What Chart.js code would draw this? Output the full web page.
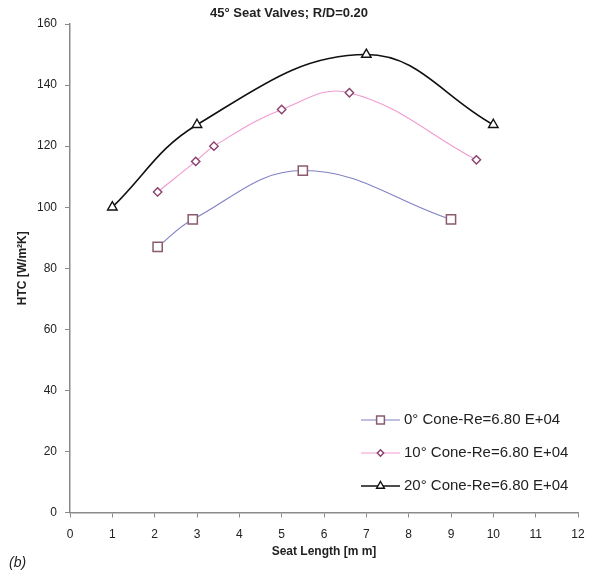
<!DOCTYPE html>
<html>
<head>
<meta charset="utf-8">
<script src="https://cdn.jsdelivr.net/npm/chart.js@4.4.1/dist/chart.umd.min.js"></script>
<style>
  html, body { margin: 0; padding: 0; background: #fff; }
  #wrap { width: 592px; height: 576px; }
</style>
</head>
<body>
<div id="wrap"><canvas id="htcChart" width="592" height="576"></canvas></div>
<script>
// Heat transfer coefficient vs seat length, 45° seat valves, R/D = 0.20
const seriesLabels = [
  '0° Cone-Re=6.80 E+04',
  '10° Cone-Re=6.80 E+04',
  '20° Cone-Re=6.80 E+04'
];

const seatLength0 = [2.07, 2.9, 5.5, 9.0];
const htc0 = [87, 96, 112, 96];

const seatLength10 = [2.07, 2.97, 3.4, 5.0, 6.6, 9.6];
const htc10 = [105, 115, 120, 132, 137.5, 115.5];

const seatLength20 = [1, 3, 7, 10];
const htc20 = [100, 127, 150, 127];

const FONT = '"Liberation Sans", Arial, sans-serif';
const TEXT = '#222';
const AXIS = '#8a8a8a';

const toPoints = (xs, ys) => xs.map((x, i) => ({ x, y: ys[i] }));

// Legend drawn as line + marker samples, lower right of the plot
const lineLegend = {
  id: 'lineLegend',
  afterDraw(chart) {
    const ctx = chart.ctx;
    const x0 = 361, x1 = 400, textX = 404;
    const rows = [420, 453, 486];
    chart.data.datasets.forEach((ds, i) => {
      const y = rows[i];
      ctx.save();
      ctx.strokeStyle = ds.borderColor;
      ctx.lineWidth = ds.borderWidth;
      ctx.beginPath();
      ctx.moveTo(x0, y);
      ctx.lineTo(x1, y);
      ctx.stroke();
      ctx.fillStyle = ds.pointBackgroundColor;
      ctx.strokeStyle = ds.pointBorderColor;
      ctx.lineWidth = ds.pointBorderWidth;
      Chart.helpers.drawPoint(ctx, {
        pointStyle: ds.pointStyle,
        radius: ds.pointRadius - 1,
        rotation: 0,
        borderWidth: ds.pointBorderWidth
      }, (x0 + x1) / 2, y);
      ctx.fillStyle = TEXT;
      ctx.font = '15px ' + FONT;
      ctx.textBaseline = 'middle';
      ctx.textAlign = 'left';
      ctx.fillText(ds.label, textX, y);
      ctx.restore();
    });

    // panel tag
    ctx.save();
    ctx.fillStyle = TEXT;
    ctx.font = 'italic 14px ' + FONT;
    ctx.textBaseline = 'middle';
    ctx.fillText('(b)', 9, 563);
    ctx.restore();
  }
};

new Chart(document.getElementById('htcChart'), {
  type: 'scatter',
  data: {
    datasets: [
      {
        label: seriesLabels[0],
        data: toPoints(seatLength0, htc0),
        showLine: true,
        tension: 0.4,
        borderColor: '#7f80c4',
        borderWidth: 1.1,
        pointStyle: 'rect',
        pointRadius: 6.5,
        pointHoverRadius: 6.5,
        pointBorderColor: '#8c5a6c',
        pointBackgroundColor: '#fff',
        pointBorderWidth: 1.5
      },
      {
        label: seriesLabels[1],
        data: toPoints(seatLength10, htc10),
        showLine: true,
        tension: 0.4,
        borderColor: '#f29ad0',
        borderWidth: 1.1,
        pointStyle: 'rectRot',
        pointRadius: 4.2,
        pointHoverRadius: 4.2,
        pointBorderColor: '#8a3f6e',
        pointBackgroundColor: '#fff',
        pointBorderWidth: 1.4
      },
      {
        label: seriesLabels[2],
        data: toPoints(seatLength20, htc20),
        showLine: true,
        tension: 0.4,
        borderColor: '#111',
        borderWidth: 1.6,
        pointStyle: 'triangle',
        pointRadius: 5.5,
        pointHoverRadius: 5.5,
        pointBorderColor: '#111',
        pointBackgroundColor: '#fff',
        pointBorderWidth: 1.4
      }
    ]
  },
  options: {
    responsive: false,
    animation: false,
    layout: { padding: { left: 0, right: 14, top: 0, bottom: 17 } },
    plugins: {
      legend: { display: false },
      tooltip: { enabled: false },
      title: {
        display: true,
        text: '45° Seat Valves; R/D=0.20',
        color: TEXT,
        font: { family: FONT, size: 13, weight: 'bold', lineHeight: 1.2 },
        padding: { top: 6, bottom: 2.4 }
      }
    },
    scales: {
      x: {
        type: 'linear',
        min: 0,
        max: 12,
        ticks: {
          stepSize: 1,
          color: TEXT,
          padding: 10,
          font: { family: FONT, size: 12 }
        },
        grid: {
          drawOnChartArea: false,
          color: AXIS,
          tickLength: 5
        },
        border: { color: AXIS, width: 1.5 },
        title: {
          display: true,
          text: 'Seat Length [m m]',
          color: TEXT,
          font: { family: FONT, size: 12, weight: 'bold', lineHeight: 1.2 },
          padding: { top: 2, bottom: 0 }
        },
        afterFit(scale) {
          scale.height = 576 - 512.5 - 17;
          scale.paddingRight = 0;
        }
      },
      y: {
        min: 0,
        max: 160,
        ticks: {
          stepSize: 20,
          color: TEXT,
          padding: 8,
          font: { family: FONT, size: 12 }
        },
        grid: {
          drawOnChartArea: false,
          color: AXIS,
          tickLength: 5
        },
        border: { color: AXIS, width: 1.5 },
        title: {
          display: true,
          text: 'HTC [W/m²K]',
          color: TEXT,
          font: { family: FONT, size: 12, weight: 'bold', lineHeight: 1.2 },
          padding: { top: 15, bottom: 0 }
        },
        afterFit(scale) { scale.width = 70; }
      }
    }
  },
  plugins: [lineLegend]
});
</script>
</body>
</html>
